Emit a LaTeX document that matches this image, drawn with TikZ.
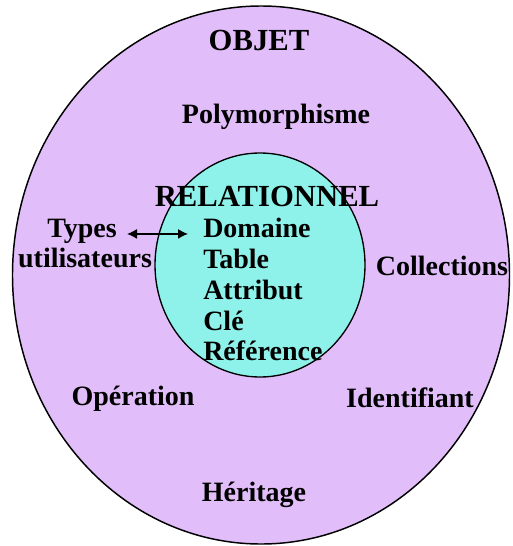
\documentclass[tikz,border=0pt]{standalone}
\usepackage{fontspec}
\setmainfont{Liberation Serif}
\usetikzlibrary{arrows.meta}

\begin{document}
\begin{tikzpicture}[x=0.75pt,y=0.75pt,yscale=-1,xscale=1,
  lbl/.style={font=\fontsize{21}{23}\selectfont\bfseries, inner sep=0.75pt},
  big/.style={font=\fontsize{23}{25}\selectfont\bfseries, inner sep=0.75pt}]
\useasboundingbox (0,0) rectangle (513,546); %set diagram size 513 x 546

%Shape: Ellipse [id:objet] 
\draw  [fill={rgb, 255:red, 225; green, 190; blue, 250 }  ,fill opacity=1 ][line width=1.1] (261,275) ellipse (248.5 and 269) ;
%Shape: Ellipse [id:relationnel] 
\draw  [fill={rgb, 255:red, 143; green, 242; blue, 234 }  ,fill opacity=1 ][line width=1] (260,265) ellipse (105 and 112) ;

% Text Node
\draw (259,50) node [anchor=base][big] (objet) {OBJET};
% Text Node
\draw (276,123) node [anchor=base][lbl] (poly) {Polymorphisme};
% Text Node
\draw (267,206) node [anchor=base][big] (rel) {RELATIONNEL};
% Text Node
\draw (82,237) node [anchor=base][lbl] (types) {Types};
% Text Node
\draw (85,267) node [anchor=base][lbl] (util) {utilisateurs};
% Text Node
\draw (202,237) node [anchor=base west][lbl] (domaine) {Domaine};
% Text Node
\draw (202,268) node [anchor=base west][lbl] (table) {Table};
% Text Node
\draw (202,299) node [anchor=base west][lbl] (attribut) {Attribut};
% Text Node
\draw (202,330) node [anchor=base west][lbl] (cle) {Clé};
% Text Node
\draw (202,360.5) node [anchor=base west][lbl] (reference) {Référence};
% Text Node
\draw (442,275) node [anchor=base][lbl] (collections) {Collections};
% Text Node
\draw (133,405.5) node [anchor=base][lbl] (operation) {Opération};
% Text Node
\draw (410,407.5) node [anchor=base][lbl] (identifiant) {Identifiant};
% Text Node
\draw (254,501.5) node [anchor=base][lbl] (heritage) {Héritage};

%Straight Lines [id:types-domaine] 
\draw [{Latex[length=7.5pt,width=7.5pt]}-{Latex[length=7.5pt,width=7.5pt]}][line width=1,shorten <=6.75pt,shorten >=10.5pt] (types.mid east) -- (domaine.mid west) ;

\end{tikzpicture}
\end{document}
